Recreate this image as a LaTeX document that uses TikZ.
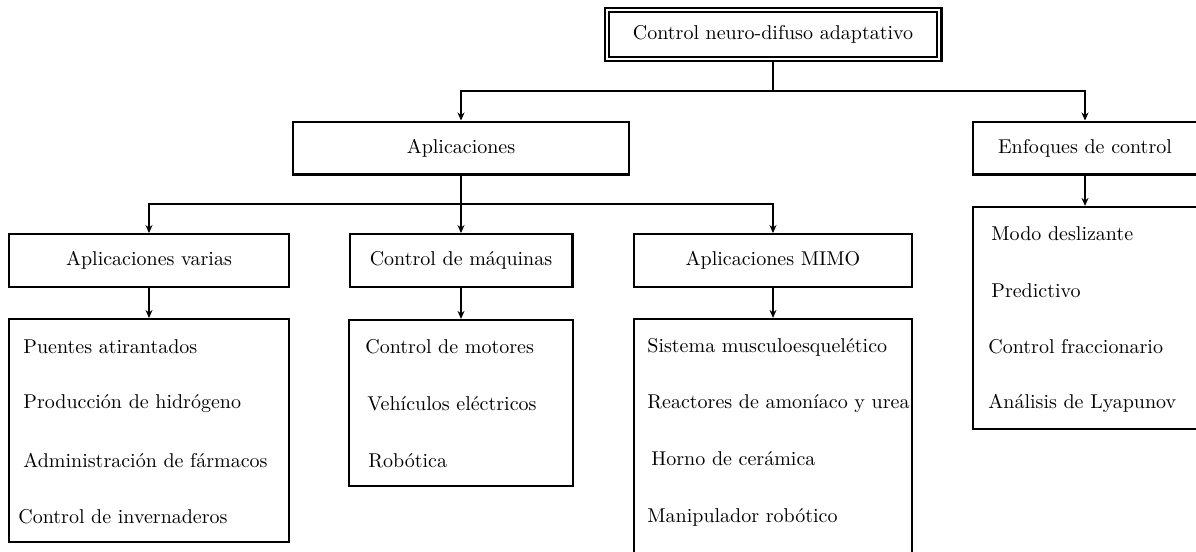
\documentclass[tikz,border=0pt]{standalone}
\usepackage{amsmath}
\usepackage{tikz}
\usetikzlibrary{arrows.meta}

\begin{document}
\begin{tikzpicture}[x=0.5pt, y=-0.5pt,
		caja/.style={draw, line width=1.1pt, rectangle, inner sep=2pt, minimum height=26.4pt},
		lista/.style={draw, line width=1.1pt, rectangle},
		elemento/.style={anchor=base west, inner sep=0pt},
		flecha/.style={line width=0.8pt, -{Stealth[length=4pt, width=3.5pt]}}]
		\useasboundingbox (0,0) rectangle (1196,552);
		% nivel 0
		\node[draw, double, double distance=1pt, line width=1.1pt, outer sep=1.6pt,
			minimum width=166.3pt, minimum height=24.3pt] (raiz) at (773,34.5) {Control neuro-difuso adaptativo};
		% nivel 1
		\node[caja, minimum width=168pt] (apl) at (461,148) {Aplicaciones};
		\node[caja, minimum width=112pt] (enf) at (1085,148) {Enfoques de control};
		% nivel 2
		\node[caja, minimum width=140pt] (var) at (149,260.5) {Aplicaciones varias};
		\node[caja, minimum width=111.4pt] (maq) at (461,260.5) {Control de máquinas};
		\node[caja, minimum width=139pt] (mimo) at (773,260.5) {Aplicaciones MIMO};
		% listas
		\node[lista, minimum width=140pt, minimum height=111.4pt] (lvar) at (149,430.5) {};
		\node[lista, minimum width=112pt, minimum height=83pt] (lmaq) at (461,403) {};
		\node[lista, minimum width=139pt, minimum height=130pt] (lmimo) at (773,449) {};
		\node[lista, minimum width=112pt, minimum height=111pt] (lenf) at (1085,318) {};
		
		\node[elemento] (v1) at (23,353) {Puentes atirantados};
		\node[elemento] (v2) at (23,408) {Producción de hidrógeno};
		\node[elemento] (v3) at (23,467) {Administración de fármacos};
		\node[elemento] (v4) at (18,523) {Control de invernaderos};
		
		\node[elemento] (m1) at (365,353) {Control de motores};
		\node[elemento] (m2) at (367,410) {Vehículos eléctricos};
		\node[elemento] (m3) at (368,467) {Robótica};
		
		\node[elemento] (s1) at (647,352) {Sistema musculoesquelético};
		\node[elemento] (s2) at (647,408) {Reactores de amoníaco y urea};
		\node[elemento] (s3) at (651,465) {Horno de cerámica};
		\node[elemento] (s4) at (647,522) {Manipulador robótico};
		
		\node[elemento] (e1) at (991,240) {Modo deslizante};
		\node[elemento] (e2) at (991,297) {Predictivo};
		\node[elemento] (e3) at (988,353) {Control fraccionario};
		\node[elemento] (e4) at (988,408) {Análisis de Lyapunov};
		
		% conectores
		\coordinate (j1) at (773,91);
		\coordinate (j2) at (461,204);
		\draw[line width=0.8pt] (raiz.south) -- (j1);
		\draw[flecha] (j1) -| (apl.north);
		\draw[flecha] (j1) -| (enf.north);
		\draw[line width=0.8pt] (apl.south) -- (j2);
		\draw[flecha] (j2) -| (var.north);
		\draw[flecha] (j2) -- (maq.north);
		\draw[flecha] (j2) -| (mimo.north);
		\draw[flecha] (var.south) -- (lvar.north);
		\draw[flecha] (maq.south) -- (lmaq.north);
		\draw[flecha] (mimo.south) -- (lmimo.north);
		\draw[flecha] (enf.south) -- (lenf.north);
		
		\end{tikzpicture}
\end{document}
